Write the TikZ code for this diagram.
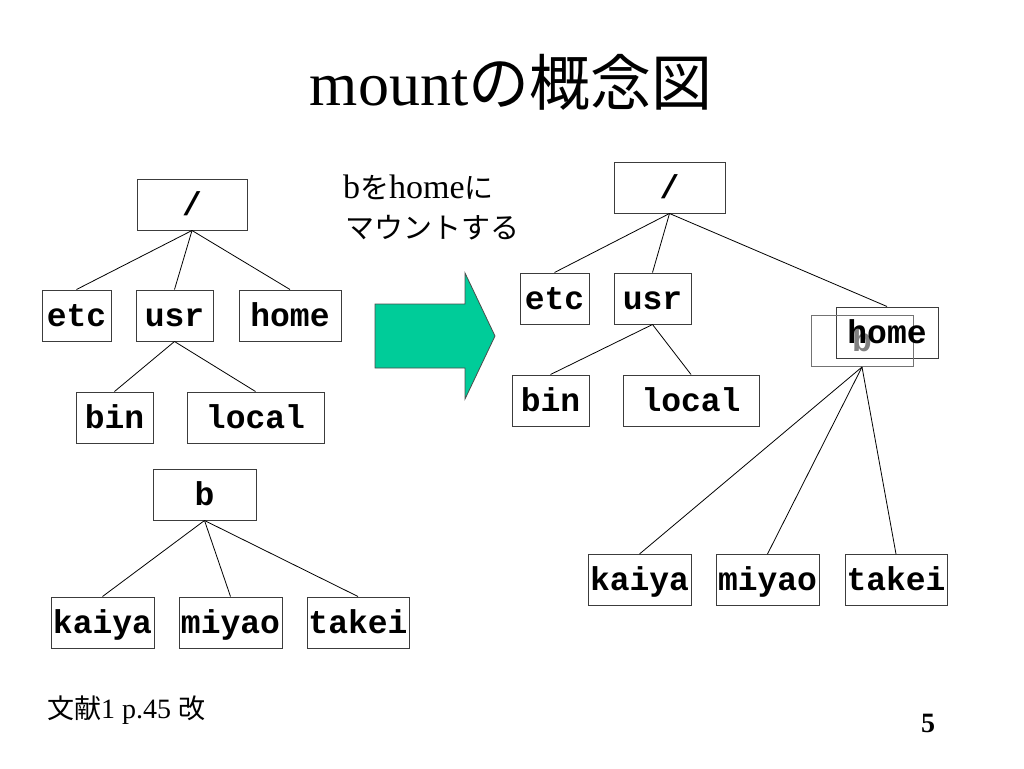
\documentclass[tikz,border=0pt]{standalone}
\usepackage{fontspec}
\setmainfont{Liberation Serif}
\newfontfamily\jp{Noto Sans CJK JP}
\newfontfamily\monof{Liberation Mono}
\definecolor{arrowgreen}{RGB}{0,204,153}
\definecolor{boxline}{RGB}{60,60,60}
\tikzset{
  fsbox/.style={draw=boxline, line width=1pt, fill=white, inner sep=0pt,
    minimum height=51pt, text height=25pt, text depth=4pt,
    font=\monof\bfseries\fontsize{33}{33}\selectfont},
  ghostbox/.style={fsbox, draw=black!55, fill=none, text=black!50},
  link/.style={draw=black, line width=0.8pt},
  jtxt/.style={inner sep=0pt, anchor=base west}
}
\begin{document}
\begin{tikzpicture}[x=1pt,y=-1pt]
\useasboundingbox (0,0) rectangle (1024,768);
% title
\node[inner sep=0pt, anchor=base] (title) at (511,105)
  {\fontsize{62}{62}\selectfont mount{\jp\fontsize{61}{61}\selectfont の概念図}};
% left tree
\node[fsbox, minimum width=110pt] (r1) at (192,204.5) {/};
\node[fsbox, minimum width=69pt] (etc1) at (76.5,315.5) {etc};
\node[fsbox, minimum width=77pt] (usr1) at (174.5,315.5) {usr};
\node[fsbox, minimum width=102pt] (home1) at (290,315.5) {home};
\node[fsbox, minimum width=77pt] (bin1) at (114.5,417.5) {bin};
\node[fsbox, minimum width=137pt] (local1) at (255.5,417.5) {local};
\node[fsbox, minimum width=103pt] (b1) at (204.5,494.5) {b};
\node[fsbox, minimum width=103pt] (kaiya1) at (102.5,622.5) {kaiya};
\node[fsbox, minimum width=103pt] (miyao1) at (230.5,622.5) {miyao};
\node[fsbox, minimum width=102pt] (takei1) at (358,622.5) {takei};
\draw[link] (r1.south) -- (etc1.north);
\draw[link] (r1.south) -- (usr1.north);
\draw[link] (r1.south) -- (home1.north);
\draw[link] (usr1.south) -- (bin1.north);
\draw[link] (usr1.south) -- (local1.north);
\draw[link] (b1.south) -- (kaiya1.north);
\draw[link] (b1.south) -- (miyao1.north);
\draw[link] (b1.south) -- (takei1.north);
% mount text
\node[jtxt] (t1) at (343,198)
  {\fontsize{34}{34}\selectfont b{\jp\fontsize{29}{29}\selectfont を}home{\jp\fontsize{29}{29}\selectfont に}};
\node[jtxt] (t2) at (345,238)
  {\jp\fontsize{29}{29}\selectfont マウントする};
% arrow
\draw[fill=arrowgreen, draw=black!70, line width=0.8pt]
  (375,304) -- (465,304) -- (465,273) -- (495,336) -- (465,399) -- (465,368) -- (375,368) -- cycle;
% right tree
\node[fsbox, minimum width=111pt] (r2) at (669.5,187.5) {/};
\node[fsbox, minimum width=69pt] (etc2) at (554.5,298.5) {etc};
\node[fsbox, minimum width=77pt] (usr2) at (652.5,298.5) {usr};
\node[fsbox, minimum width=102pt] (home2) at (887,332.5) {};
\node[ghostbox, minimum width=102pt] (b2) at (862,341) {b};
\node[fsbox, draw=none, fill=none, minimum width=102pt] (home2t) at (887,332.5) {home};
\node[fsbox, minimum width=77pt] (bin2) at (550.5,400.5) {bin};
\node[fsbox, minimum width=136pt] (local2) at (691,400.5) {local};
\node[fsbox, minimum width=103pt] (kaiya2) at (639.5,580) {kaiya};
\node[fsbox, minimum width=103pt] (miyao2) at (767.5,580) {miyao};
\node[fsbox, minimum width=102pt] (takei2) at (896,580) {takei};
\draw[link] (r2.south) -- (etc2.north);
\draw[link] (r2.south) -- (usr2.north);
\draw[link] (r2.south) -- (home2.north);
\draw[link] (usr2.south) -- (bin2.north);
\draw[link] (usr2.south) -- (local2.north);
\draw[link] (b2.south) -- (kaiya2.north);
\draw[link] (b2.south) -- (miyao2.north);
\draw[link] (b2.south) -- (takei2.north);
% footer
\node[jtxt] (foot) at (47,718)
  {{\jp\fontsize{27}{27}\selectfont 文献}\fontsize{28}{28}\selectfont 1 p.45 {\jp\fontsize{27}{27}\selectfont 改}};
\node[inner sep=0pt, anchor=base] (pg) at (928,732) {\fontsize{28}{28}\selectfont\bfseries 5};
\end{tikzpicture}
\end{document}
